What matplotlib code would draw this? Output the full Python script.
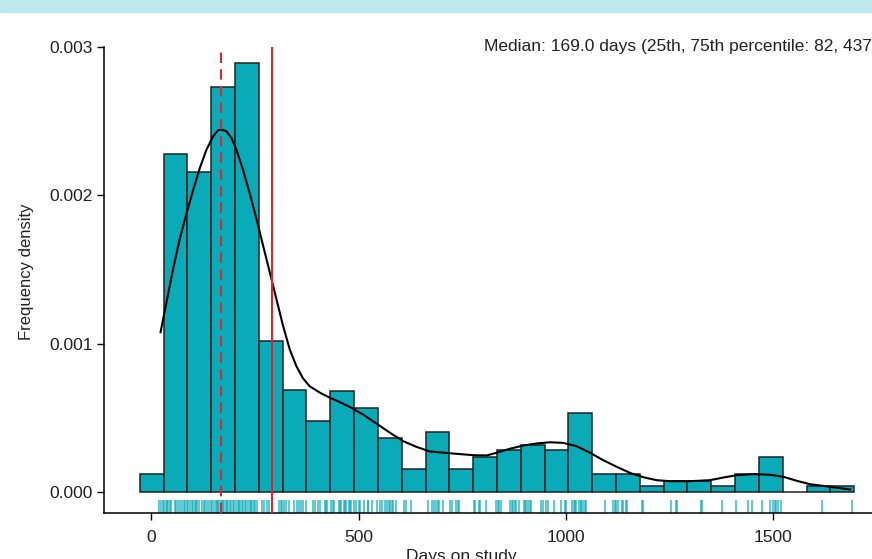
import numpy as np
import matplotlib.pyplot as plt
from matplotlib.patches import Rectangle

plt.rcParams['font.family'] = ['Liberation Sans', 'DejaVu Sans']

# histogram: 30 bins of equal width, frequency density
bin_start = -28.3
bin_width = 57.5
density = [0.000119, 0.00228, 0.00216, 0.00273, 0.00289, 0.00102, 0.000685,
           0.000479, 0.000681, 0.000566, 0.00036, 0.000151, 0.0004, 0.000155,
           0.000238, 0.000279, 0.000319, 0.000279, 0.000533, 0.000119, 0.000119,
           0.000036, 0.00007, 0.00007, 0.000036, 0.000119, 0.000238, 0.0,
           0.000036, 0.000036]

# kernel density curve
kde_x = [22, 36, 52, 68, 85, 101, 117, 133, 149, 161, 169, 181, 193, 205,
         221, 237, 254, 270, 286, 302, 318, 334, 350, 366, 382, 407, 431,
         455, 479, 511, 543, 576, 608, 640, 672, 720, 777, 809, 833, 865,
         898, 930, 962, 994, 1027, 1059, 1091, 1123, 1155, 1187, 1220, 1252,
         1300, 1348, 1381, 1413, 1453, 1493, 1526, 1558, 1590, 1638, 1687]
kde_y = [0.001076, 0.001274, 0.001499, 0.001701, 0.001881, 0.002038,
         0.002185, 0.002308, 0.002398, 0.002438, 0.002443, 0.002432,
         0.002387, 0.002308, 0.002173, 0.002016, 0.001836, 0.001656,
         0.001477, 0.001297, 0.001117, 0.000960, 0.000847, 0.000765,
         0.000712, 0.000668, 0.000634, 0.000605, 0.000572, 0.000521,
         0.000461, 0.000398, 0.000341, 0.000303, 0.000272, 0.000260,
         0.000247, 0.000245, 0.000263, 0.000290, 0.000312, 0.000326,
         0.000334, 0.000330, 0.000307, 0.000263, 0.000213, 0.000169,
         0.000128, 0.0000985, 0.0000782, 0.0000715, 0.0000715, 0.0000782,
         0.0000964, 0.000112, 0.000119, 0.000115, 0.000101, 0.0000742,
         0.0000512, 0.0000337, 0.0000155]

# individual observations (rug)
days = [19, 23, 27, 30, 34, 37, 41, 45, 48, 56, 60, 65, 70, 75, 79, 82, 86, 89,
        93, 97, 100, 104, 107, 111, 115, 121, 126, 130, 134, 140, 144, 147, 151,
        155, 158, 160, 163, 167, 170, 172, 175, 179, 182, 186, 190, 193, 197,
        200, 204, 208, 211, 215, 219, 222, 226, 229, 233, 237, 240, 244, 248,
        251, 255, 266, 271, 280, 285, 292, 307, 312, 316, 321, 326, 331, 345,
        351, 357, 362, 367, 372, 389, 396, 402, 406, 418, 422, 425, 434, 438,
        440, 452, 455, 458, 464, 467, 470, 477, 480, 482, 488, 493, 501, 504,
        513, 522, 524, 533, 545, 553, 557, 565, 568, 573, 576, 580, 583, 591,
        609, 615, 627, 667, 678, 681, 688, 691, 694, 704, 721, 726, 736, 739,
        742, 779, 782, 791, 794, 807, 833, 836, 840, 845, 866, 870, 873, 877,
        881, 887, 899, 903, 905, 909, 913, 917, 941, 945, 952, 957, 971, 988,
        998, 1002, 1015, 1019, 1023, 1026, 1032, 1036, 1038, 1042, 1046, 1050,
        1094, 1114, 1118, 1122, 1126, 1135, 1138, 1145, 1148, 1185, 1187, 1255,
        1267, 1270, 1328, 1330, 1378, 1412, 1440, 1450, 1473, 1494, 1501, 1505,
        1509, 1513, 1521, 1620, 1692]

median_days = 169.0
mean_days = 292
title = "Median: 169.0 days (25th, 75th percentile: 82, 437)"

teal = '#0aabb8'
red = '#e02530'

fig = plt.figure(figsize=(8.72, 5.59), dpi=100)
fig.patches.append(Rectangle((0, 1 - 12 / 559), 1, 12 / 559,
                             transform=fig.transFigure, color='#bee9ec', zorder=0))

ax = fig.add_axes([104 / 872, 46 / 559, (897 - 104) / 872, 466 / 559])

edges = bin_start + bin_width * np.arange(len(density) + 1)
ax.bar(edges[:-1], density, width=bin_width, align='edge', color=teal,
       edgecolor='#222222', linewidth=1.1, zorder=2)
ax.plot(kde_x, kde_y, color='black', linewidth=1.5, zorder=3)

ax.vlines(days, -0.000143, -0.000052, color=teal, alpha=0.65,
          linewidth=1.4, zorder=2)

ax.axvline(median_days, color=red, linewidth=1.5, dashes=(5, 3), zorder=4)
ax.axvline(mean_days, color=red, linewidth=1.5, zorder=4)

ax.set_xlim(-114.5, 1800)
ax.set_ylim(-0.000143, 0.003)
ax.set_xticks([0, 500, 1000, 1500])
ax.set_yticks([0, 0.001, 0.002, 0.003])
ax.set_yticklabels(['0.000', '0.001', '0.002', '0.003'])
ax.tick_params(axis='both', direction='out', length=5, width=1,
               labelsize=12.5, labelcolor='#222222')
ax.tick_params(axis='x', pad=7)
ax.tick_params(axis='y', pad=3)
for side in ['top', 'right']:
    ax.spines[side].set_visible(False)
for side in ['left', 'bottom']:
    ax.spines[side].set_linewidth(1.1)

fig.text(484 / 872, 1 - 47 / 559, title, ha='left', va='center',
         fontsize=12.5, color='#222222')
fig.text(461 / 872, 1 - 549 / 559, 'Days on study', ha='center', va='top',
         fontsize=12.5, color='#222222')
fig.text(27 / 872, 1 - 272 / 559, 'Frequency density', ha='center',
         va='center', rotation=90, fontsize=12, color='#222222')

fig.savefig('out.png', dpi=100)
